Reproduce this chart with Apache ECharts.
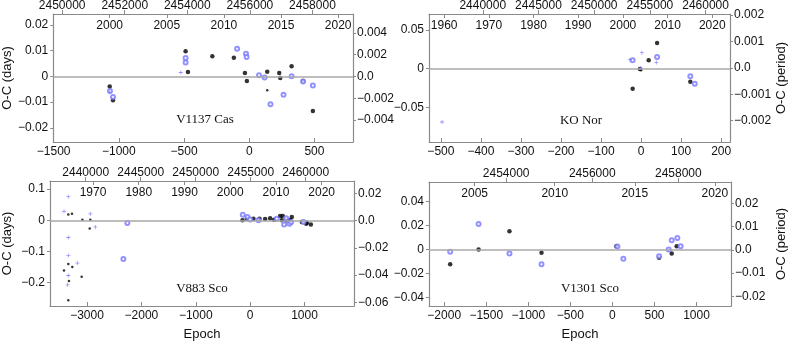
<!DOCTYPE html>
<html>
<head>
<meta charset="utf-8">
<script src="https://cdn.jsdelivr.net/npm/echarts@6/dist/echarts.min.js"></script>
<style>
  html, body { margin: 0; background: #fff; }
  #chart { width: 789px; height: 342px; }
</style>
</head>
<body>
<div id="chart"></div>
<script>
// ---- V1137 Cas : [epoch, O-C days]
const casBlack = [[-1070, -0.0039], [-1045, -0.0093], [-488, 0.0098], [-470, 0.0017], [-283, 0.0078],
  [-118, 0.0072], [-33, 0.0013], [-18, -0.0018], [138, 0.0018], [230, 0.0013], [238, -0.0006],
  [325, 0.0039], [413, -0.0018], [488, -0.0135]];
const casBlue = [[-1068, -0.0057], [-1045, -0.008], [-488, 0.0071], [-488, 0.0054], [-93, 0.0107],
  [-25, 0.0088], [-20, 0.0075], [75, 0.0004], [118, -0.0004], [163, -0.0108], [263, -0.0071],
  [325, 0.0], [413, -0.002], [488, -0.0036]];
const casSmallBlack = [[138, -0.0054]];
const casSmallBlue = [[-525, 0.0015], [-1070, -0.0062]];

// ---- KO Nor
const norBlack = [[-21, -0.0259], [-3, -0.0004], [19, 0.0108], [40, 0.0332], [123, -0.0168]];
const norBlue = [[-21, 0.0108], [40, 0.015], [123, -0.0099], [134, -0.0194]];
const norSmallBlack = [[0, -0.002]];
const norSmallBlue = [[-497, -0.069], [-28, 0.0116], [2, 0.0207], [38, 0.0078], [-1, 0.001]];

// ---- V883 Sco
const scoBlack = [[-141, 0.0], [-61, 0.005], [61, 0.005], [172, 0.005], [276, 0.004], [368, 0.007],
  [442, 0.002], [552, 0.014], [601, 0.014], [583, 0.0], [663, 0.0], [736, 0.0], [767, 0.011],
  [951, -0.005], [1031, -0.011], [1043, -0.008], [1117, -0.013]];
const scoBlue = [[-135, 0.018], [-49, 0.011], [0, 0.003], [153, 0.0], [490, 0.005], [625, -0.013],
  [663, 0.007], [724, -0.011], [754, -0.005], [982, -0.005], [-2258, -0.0084], [-2331, -0.124]];
const scoSmallBlack = [[-3344, 0.019], [-3276, 0.021], [-3085, 0.002], [-2939, 0.002], [-2950, -0.026],
  [-3423, -0.161], [-3344, -0.14], [-3332, -0.195], [-3270, -0.15], [-3098, -0.181], [-3344, -0.256]];
const scoSmallBlue = [[-3344, 0.076], [-3423, 0.029], [-3344, -0.055], [-3344, -0.113], [-3344, -0.177],
  [-3356, -0.207], [-3178, -0.137], [-2939, 0.021], [-2847, -0.021]];

// ---- V1301 Sco
const sco2Black = [[-1929, -0.0123], [-1591, 0.0], [-1224, 0.0153], [-843, -0.0027], [47, 0.0027],
  [555, -0.0068], [705, -0.0033], [764, 0.0027]];
const sco2Blue = [[-1929, -0.0019], [-1591, 0.0214], [-1224, -0.0033], [-843, -0.0123], [59, 0.0025],
  [130, -0.0077], [555, -0.0055], [669, 0.0], [705, 0.0077], [772, 0.0096], [811, 0.0027]];

// ---- tick labels
const casEpochTicks = [-1500, -1000, -500, 0, 500];
const casDayTicks = [-0.02, -0.01, 0, 0.01, 0.02];
const casPeriodTicks = [-0.004, -0.002, 0, 0.002, 0.004];
const casJdTicks = [2450000, 2452000, 2454000, 2456000, 2458000];
const casYearTicks = [2000, 2005, 2010, 2015, 2020];

const norEpochTicks = [-500, -400, -300, -200, -100, 0, 100, 200];
const norDayTicks = [-0.05, 0, 0.05];
const norPeriodTicks = [-0.002, -0.001, 0, 0.001, 0.002];
const norJdTicks = [2440000, 2445000, 2450000, 2455000, 2460000];
const norYearTicks = [1960, 1970, 1980, 1990, 2000, 2010, 2020];

const scoEpochTicks = [-3000, -2000, -1000, 0, 1000];
const scoDayTicks = [-0.2, -0.1, 0, 0.1];
const scoPeriodTicks = [-0.06, -0.04, -0.02, 0, 0.02];
const scoJdTicks = [2440000, 2445000, 2450000, 2455000, 2460000];
const scoYearTicks = [1970, 1980, 1990, 2000, 2010, 2020];

const sco2EpochTicks = [-2000, -1500, -1000, -500, 0, 500, 1000];
const sco2DayTicks = [-0.04, -0.02, 0, 0.02, 0.04];
const sco2PeriodTicks = [-0.02, -0.01, 0, 0.01, 0.02];
const sco2JdTicks = [2454000, 2456000, 2458000];
const sco2YearTicks = [2005, 2010, 2015, 2020];

// value range of an axis from two reference ticks and the frame edges (px)
function span(v1, p1, v2, p2, lo, hi) {
  const k = (v2 - v1) / (p2 - p1);
  return [v1 + (lo - p1) * k, v1 + (hi - p1) * k];
}

const BLUE = '#7878ff';
const FRAME = '#8a8a8a';
const FONT = 'Liberation Sans';
const minus = (s) => String(s).replace('-', '\u2212');

const panels = [
  {
    name: 'V1137 Cas', frame: { l: 50, t: 13, r: 353, b: 142 }, label: [205, 120],
    epoch: [-1500, 50.4, 500, 314], day: [0.02, 24, -0.02, 127.7], period: [0.004, 32.1, -0.004, 119.9],
    jd: [2450000, 59, 2458000, 312], year: [2000, 107, 2020, 338],
    ticks: [casEpochTicks, casDayTicks, casPeriodTicks, casJdTicks, casYearTicks],
    data: [casBlack, casBlue, casSmallBlack, casSmallBlue],
    leftName: 'O-C (days)', rightName: '', bottomName: ''
  },
  {
    name: 'KO Nor', frame: { l: 429, t: 14, r: 733, b: 142 }, label: [581, 121],
    epoch: [-500, 441, 200, 724], day: [0.05, 30, -0.05, 107.3], period: [0.002, 15, -0.002, 120.7],
    jd: [2440000, 483.3, 2460000, 708.3], year: [1960, 444.3, 2020, 715],
    ticks: [norEpochTicks, norDayTicks, norPeriodTicks, norJdTicks, norYearTicks],
    data: [norBlack, norBlue, norSmallBlack, norSmallBlue],
    leftName: '', rightName: 'O-C (period)', bottomName: ''
  },
  {
    name: 'V883 Sco', frame: { l: 50, t: 181, r: 354, b: 308 }, label: [202, 289],
    epoch: [-3000, 87, 1000, 304.5], day: [0.1, 189.3, -0.2, 284.3], period: [0.02, 193.7, -0.06, 304.3],
    jd: [2440000, 85.7, 2460000, 305.7], year: [1970, 93, 2020, 321.7],
    ticks: [scoEpochTicks, scoDayTicks, scoPeriodTicks, scoJdTicks, scoYearTicks],
    data: [scoBlack, scoBlue, scoSmallBlack, scoSmallBlue],
    leftName: 'O-C (days)', rightName: '', bottomName: 'Epoch'
  },
  {
    name: 'V1301 Sco', frame: { l: 429, t: 182, r: 733, b: 308 }, label: [590, 289],
    epoch: [-2000, 444.3, 1000, 698.3], day: [0.04, 202, -0.04, 299.3], period: [0.02, 203.7, -0.02, 298.3],
    jd: [2454000, 506.7, 2458000, 680], year: [2005, 475, 2020, 716.7],
    ticks: [sco2EpochTicks, sco2DayTicks, sco2PeriodTicks, sco2JdTicks, sco2YearTicks],
    data: [sco2Black, sco2Blue, [], []],
    leftName: '', rightName: 'O-C (period)', bottomName: 'Epoch'
  }
];

const grid = [], xAxis = [], yAxis = [], series = [], graphic = [];
const labelStyle = { color: '#111', fontSize: 12, fontFamily: FONT };

panels.forEach((p, i) => {
  const f = p.frame;
  grid.push({ left: f.l, top: f.t, width: f.r - f.l, height: f.b - f.t });
  const [eMin, eMax] = span(p.epoch[0], p.epoch[1], p.epoch[2], p.epoch[3], f.l, f.r);
  const [jMin, jMax] = span(p.jd[0], p.jd[1], p.jd[2], p.jd[3], f.l, f.r);
  const [yMin, yMax] = span(p.year[0], p.year[1], p.year[2], p.year[3], f.l, f.r);
  const [dMin, dMax] = span(p.day[0], p.day[1], p.day[2], p.day[3], f.b, f.t);
  const [pMin, pMax] = span(p.period[0], p.period[1], p.period[2], p.period[3], f.b, f.t);
  const [tEpoch, tDay, tPeriod, tJd, tYear] = p.ticks;

  // bottom epoch axis
  xAxis.push({
    gridIndex: i, type: 'value', position: 'bottom', min: eMin, max: eMax,
    name: p.bottomName, nameLocation: 'middle', nameGap: 22,
    nameTextStyle: { color: '#111', fontSize: 13, fontFamily: FONT },
    axisLine: { show: true, onZero: false, lineStyle: { color: FRAME, width: 1.2 } },
    axisTick: { show: true, inside: true, length: 4, customValues: tEpoch, lineStyle: { color: FRAME } },
    axisLabel: Object.assign({ customValues: tEpoch, margin: 4, formatter: minus }, labelStyle),
    splitLine: { show: false }
  });
  // top JD axis (outside)
  xAxis.push({
    gridIndex: i, type: 'value', position: 'top', min: jMin, max: jMax,
    axisLine: { show: true, onZero: false, lineStyle: { color: FRAME, width: 1.2 } },
    axisTick: { show: true, inside: false, length: 4, customValues: tJd, lineStyle: { color: FRAME } },
    axisLabel: Object.assign({ customValues: tJd, margin: 2, formatter: (v) => String(v) }, labelStyle),
    splitLine: { show: false }
  });
  // top year axis (inside the frame)
  xAxis.push({
    gridIndex: i, type: 'value', position: 'top', min: yMin, max: yMax,
    axisLine: { show: false, onZero: false },
    axisTick: { show: true, inside: true, length: 4, customValues: tYear, lineStyle: { color: FRAME } },
    axisLabel: Object.assign({ inside: true, customValues: tYear, margin: 6, formatter: (v) => String(v) }, labelStyle),
    splitLine: { show: false }
  });
  // left O-C days
  yAxis.push({
    gridIndex: i, type: 'value', position: 'left', min: dMin, max: dMax,
    name: p.leftName, nameLocation: 'middle', nameGap: 36,
    nameTextStyle: { color: '#111', fontSize: 13, fontFamily: FONT },
    axisLine: { show: true, onZero: false, lineStyle: { color: FRAME, width: 1.2 } },
    axisTick: { show: true, length: 3, customValues: tDay, lineStyle: { color: FRAME } },
    axisLabel: Object.assign({ customValues: tDay, margin: 5, formatter: minus }, labelStyle),
    splitLine: { show: false }
  });
  // right O-C period
  yAxis.push({
    gridIndex: i, type: 'value', position: 'right', min: pMin, max: pMax,
    name: p.rightName, nameLocation: 'middle', nameGap: 44,
    nameTextStyle: { color: '#111', fontSize: 13, fontFamily: FONT },
    axisLine: { show: true, onZero: false, lineStyle: { color: FRAME, width: 1.2 } },
    axisTick: { show: true, length: 3, customValues: tPeriod, lineStyle: { color: FRAME } },
    axisLabel: Object.assign({ customValues: tPeriod, margin: 4,
      formatter: (v) => (v === 0 ? '0.0' : minus(v)) }, labelStyle),
    splitLine: { show: false }
  });

  const xi = i * 3, yi = i * 2;
  const [big, open, smallDot, smallPlus] = p.data;
  series.push({
    type: 'scatter', xAxisIndex: xi, yAxisIndex: yi, data: big, symbol: 'circle', symbolSize: 4.5,
    itemStyle: { color: '#000' }, z: 3,
    markLine: {
      silent: true, symbol: 'none', label: { show: false },
      lineStyle: { color: '#a8a8a8', width: 1.5, type: 'solid' },
      data: [{ yAxis: 0 }]
    }
  });
  series.push({
    type: 'scatter', xAxisIndex: xi, yAxisIndex: yi, data: open, symbol: 'emptyCircle', symbolSize: 4,
    itemStyle: { color: BLUE, borderWidth: 0.9 }, z: 4
  });
  series.push({
    type: 'scatter', xAxisIndex: xi, yAxisIndex: yi, data: smallDot, symbol: 'circle', symbolSize: 2.5,
    itemStyle: { color: '#000' }, z: 3
  });
  series.push({
    type: 'scatter', xAxisIndex: xi, yAxisIndex: yi, data: smallPlus,
    symbol: 'path://M0,2H5V3H0ZM2,0H3V5H2Z', symbolSize: 4,
    itemStyle: { color: BLUE }, z: 4
  });

  graphic.push({
    type: 'text', x: p.label[0], y: p.label[1],
    style: { text: p.name, font: '13px "Liberation Serif"', fill: '#111',
      align: 'center', verticalAlign: 'middle', textAlign: 'center', textVerticalAlign: 'middle' }
  });
});

const chart = echarts.init(document.getElementById('chart'), null, { renderer: 'canvas' });
chart.setOption({
  animation: false,
  backgroundColor: '#fff',
  grid: grid,
  xAxis: xAxis,
  yAxis: yAxis,
  series: series,
  graphic: graphic
});
</script>
</body>
</html>
